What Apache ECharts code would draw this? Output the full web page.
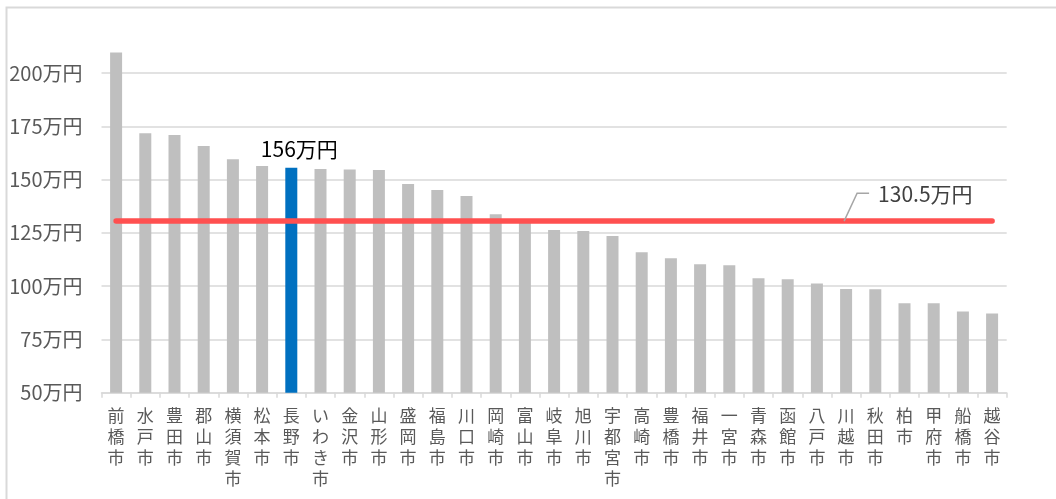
<!DOCTYPE html>
<html>
<head>
<meta charset="utf-8">
<script src="https://cdn.jsdelivr.net/npm/echarts@6/dist/echarts.min.js"></script>
<style>
html,body{margin:0;padding:0;background:#fff;}
#c{width:1056px;height:499px;}
</style>
</head>
<body>
<div id="c"></div>
<script>
const categories = ['前橋市','水戸市','豊田市','郡山市','横須賀市','松本市','長野市','いわき市','金沢市','山形市','盛岡市','福島市','川口市','岡崎市','富山市','岐阜市','旭川市','宇都宮市','高崎市','豊橋市','福井市','一宮市','青森市','函館市','八戸市','川越市','秋田市','柏市','甲府市','船橋市','越谷市'];
const values = [209.6,171.7,170.9,165.8,159.5,156.4,155.6,155.0,154.8,154.5,147.9,145.1,142.3,133.8,130.1,126.3,125.9,123.5,115.9,113.1,110.3,109.8,103.7,103.2,101.3,98.7,98.5,92.0,92.0,88.1,87.2];
const highlightCity = '長野市';
const averageValue = 130.5;
const averageLabelCity = '川越市';
const yMin = 50, yMax = 225, yInterval = 25;
const unit = '万円';

const FONT = '"Noto Sans CJK JP","Noto Sans",sans-serif';

const hi = categories.indexOf(highlightCity);
const barData = values.map((v, i) => i === hi ? {
  value: v,
  itemStyle: {color: '#0070C0'},
  label: {
    show: true, position: 'top', distance: 8, offset: [8, 0],
    fontFamily: FONT, fontSize: 21, color: '#000',
    formatter: p => Math.round(p.value) + unit
  }
} : v);

const chart = echarts.init(document.getElementById('c'));
chart.setOption({
  animation: false,
  backgroundColor: '#fff',
  grid: {left: 101.5, right: 49.3, top: 19.8, bottom: 106.3, containLabel: false},
  xAxis: {
    type: 'category',
    data: categories,
    axisLine: {lineStyle: {color: '#d9d9d9', width: 1.5}},
    axisTick: {show: true, length: 5, lineStyle: {color: '#d9d9d9', width: 1.5}},
    axisLabel: {
      interval: 0, margin: 12,
      color: '#595959', fontFamily: FONT, fontSize: 17, lineHeight: 21,
      verticalAlign: 'top',
      formatter: s => s.split('').join('\n')
    }
  },
  yAxis: {
    type: 'value', min: yMin, max: yMax, interval: yInterval,
    axisLine: {show: false}, axisTick: {show: false},
    splitLine: {show: true, showMaxLine: false, lineStyle: {color: '#d9d9d9', width: 1.5}},
    axisLabel: {
      showMaxLabel: false, margin: 19,
      color: '#595959', fontFamily: FONT, fontSize: 20,
      formatter: v => v + unit
    }
  },
  series: [{
    type: 'bar',
    data: barData,
    barWidth: 12,
    itemStyle: {color: '#BFBFBF'},
    markLine: {
      silent: true,
      symbol: 'none',
      label: {show: false},
      lineStyle: {color: '#FF5050', width: 5.5, type: 'solid', cap: 'round'},
      data: [[{coord: [0, averageValue]}, {coord: [categories.length - 1, averageValue]}]]
    }
  }]
});

const p = chart.convertToPixel({xAxisIndex: 0, yAxisIndex: 0}, [categories.indexOf(averageLabelCity), averageValue]);
chart.setOption({
  graphic: [
    {type: 'rect', silent: true, z: -1, shape: {x: 6.5, y: 7.5, width: 1200, height: 800},
     style: {fill: 'none', stroke: '#d9d9d9', lineWidth: 2}},
    {type: 'polyline', silent: true, z: 10,
     shape: {points: [[p[0] - 2, p[1]], [p[0] + 11, p[1] - 28], [p[0] + 23, p[1] - 28]]},
     style: {stroke: '#a6a6a6', lineWidth: 1.5, fill: 'none'}},
    {type: 'text', silent: true, z: 10, x: p[0] + 32, y: p[1] - 27,
     style: {
       text: averageValue + unit,
       verticalAlign: 'middle', align: 'left',
       font: '21px ' + FONT, fill: '#404040'
     }}
  ]
});
</script>
</body>
</html>
